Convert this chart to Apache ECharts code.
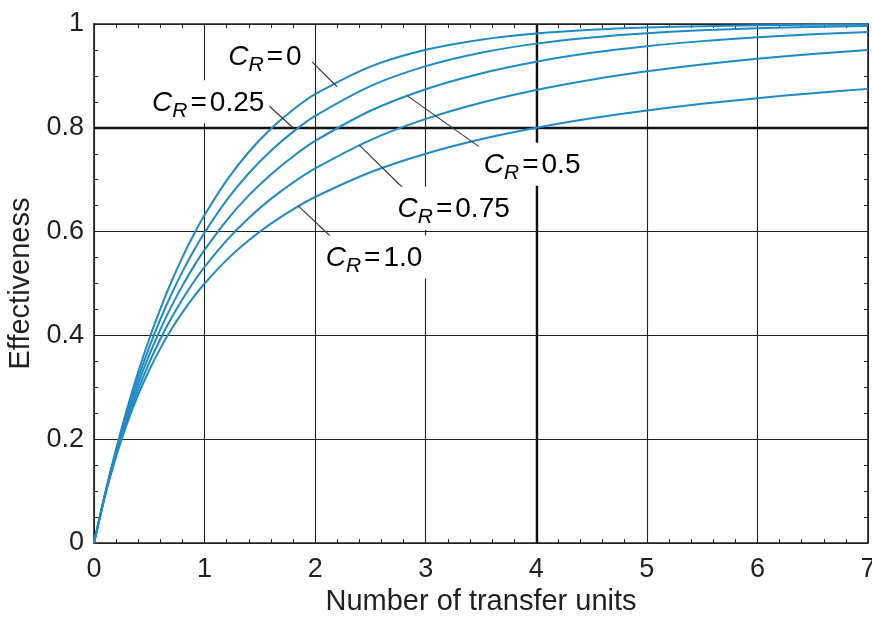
<!DOCTYPE html>
<html>
<head>
<meta charset="utf-8">
<title>Counterflow heat exchanger effectiveness</title>
<script src="https://cdn.jsdelivr.net/npm/echarts@6/dist/echarts.min.js"></script>
<style>
  html, body { margin: 0; padding: 0; background: #fff; }
  #chart { width: 872px; height: 621px; }
</style>
</head>
<body>
<div id="chart"></div>
<script>
// Number of transfer units (NTU) sample points
const ntu = [0, 0.1, 0.2, 0.3, 0.4, 0.5, 0.6, 0.7, 0.8, 0.9, 1.0, 1.2, 1.4, 1.6, 1.8, 2.0,
             2.5, 3.0, 3.5, 4.0, 4.5, 5.0, 5.5, 6.0, 6.5, 7.0];

// Effectiveness for each capacity ratio C_R
const effCR0 = [0, 0.0952, 0.1813, 0.2592, 0.3297, 0.3935, 0.4512, 0.5034, 0.5507, 0.5934, 0.6321,
                0.6988, 0.7534, 0.7981, 0.8347, 0.8647, 0.9179, 0.9502, 0.9698, 0.9817, 0.9889,
                0.9933, 0.9959, 0.9975, 0.9985, 0.9991];
const effCR025 = [0, 0.0941, 0.1775, 0.2517, 0.3181, 0.3776, 0.4311, 0.4793, 0.5229, 0.5624, 0.5983,
                  0.6606, 0.7124, 0.7557, 0.7921, 0.8228, 0.8804, 0.9188, 0.9447, 0.9622, 0.9741,
                  0.9823, 0.9878, 0.9916, 0.9943, 0.9961];
const effCR05 = [0, 0.0930, 0.1738, 0.2445, 0.3069, 0.3623, 0.4117, 0.4560, 0.4959, 0.5320, 0.5647,
                 0.6218, 0.6697, 0.7102, 0.7448, 0.7746, 0.8328, 0.8744, 0.9048, 0.9274, 0.9444,
                 0.9572, 0.9670, 0.9745, 0.9802, 0.9847];
const effCR075 = [0, 0.0919, 0.1702, 0.2375, 0.2961, 0.3475, 0.3930, 0.4334, 0.4697, 0.5023, 0.5319,
                  0.5832, 0.6263, 0.6630, 0.6945, 0.7218, 0.7764, 0.8171, 0.8484, 0.8730, 0.8927,
                  0.9088, 0.9220, 0.9330, 0.9422, 0.9500];
const effCR1 = [0, 0.0909, 0.1667, 0.2308, 0.2857, 0.3333, 0.3750, 0.4118, 0.4444, 0.4737, 0.5000,
                0.5455, 0.5833, 0.6154, 0.6429, 0.6667, 0.7143, 0.7500, 0.7778, 0.8000, 0.8182,
                0.8333, 0.8462, 0.8571, 0.8667, 0.8750];

const ratioLabels = ['0', '0.25', '0.5', '0.75', '1.0'];
const effSeries = [effCR0, effCR025, effCR05, effCR075, effCR1];

// Reference lines drawn heavier than the grid
const refNtu = 4;
const refEff = 0.8;

const FONT = '"Liberation Sans", Arial, Helvetica, sans-serif';
const INK = '#231f20';
const CURVE = '#1f8bc6';

// Curve labels: anchor (left, middle) and leader line ends, in data units
const curveNotes = [
  { label: ratioLabels[0], at: [1.17, 0.938], from: [1.972, 0.927], to: [2.198, 0.879] },
  { label: ratioLabels[1], at: [0.48, 0.850], from: [1.574, 0.844], to: [1.800, 0.800] },
  { label: ratioLabels[2], at: [3.48, 0.730], from: [2.831, 0.862], to: [3.527, 0.757] },
  { label: ratioLabels[3], at: [2.70, 0.645], from: [2.397, 0.767], to: [2.795, 0.684] },
  { label: ratioLabels[4], at: [2.05, 0.551], from: [1.845, 0.650], to: [2.143, 0.590] }
];

const chart = echarts.init(document.getElementById('chart'), null, { renderer: 'canvas' });

const frameLine = { show: true, onZero: false, lineStyle: { color: '#222', width: 1.6 } };
const gridLine = { show: true, lineStyle: { color: '#222', width: 1.1 } };
const tickIn = { show: true, inside: true, length: 4, lineStyle: { color: '#222', width: 1 } };

function minor(n) {
  return { show: true, splitNumber: n, length: 4, lineStyle: { color: '#222', width: 1 } };
}

const series = effSeries.map((vals, k) => ({
  name: 'C_R = ' + ratioLabels[k],
  type: 'line',
  data: ntu.map((x, i) => [x, vals[i]]),
  smooth: 0.3,
  showSymbol: false,
  symbol: 'none',
  lineStyle: { color: CURVE, width: 2 },
  z: 3,
  silent: true
}));

series[0].markLine = {
  silent: true,
  symbol: 'none',
  label: { show: false },
  lineStyle: { color: '#111', width: 2.4, type: 'solid' },
  z: 2,
  data: [{ xAxis: refNtu }, { yAxis: refEff }]
};

chart.setOption({
  animation: false,
  backgroundColor: '#fff',
  grid: { left: 94, right: 4, top: 24, bottom: 78, containLabel: false, outerBoundsMode: 'none' },
  xAxis: [
    {
      type: 'value', min: 0, max: 7, interval: 1, position: 'bottom',
      axisLine: frameLine,
      axisTick: tickIn,
      minorTick: minor(5),
      splitLine: gridLine,
      axisLabel: { color: INK, fontFamily: FONT, fontSize: 27, margin: 13 },
      name: 'Number of transfer units',
      nameLocation: 'middle',
      nameGap: 34,
      nameTextStyle: { color: INK, fontFamily: FONT, fontSize: 29 }
    },
    {
      type: 'value', min: 0, max: 7, interval: 1, position: 'top',
      axisLine: frameLine,
      axisTick: tickIn,
      minorTick: minor(5),
      splitLine: { show: false },
      axisLabel: { show: false }
    }
  ],
  yAxis: [
    {
      type: 'value', min: 0, max: 1, interval: 0.2, position: 'left',
      axisLine: frameLine,
      axisTick: tickIn,
      minorTick: minor(4),
      splitLine: gridLine,
      axisLabel: { color: INK, fontFamily: FONT, fontSize: 27, margin: 10 },
      name: 'Effectiveness',
      nameLocation: 'middle',
      nameGap: 58,
      nameRotate: 90,
      nameTextStyle: { color: INK, fontFamily: FONT, fontSize: 29 }
    },
    {
      type: 'value', min: 0, max: 1, interval: 0.2, position: 'right',
      axisLine: frameLine,
      axisTick: tickIn,
      minorTick: minor(4),
      splitLine: { show: false },
      axisLabel: { show: false }
    }
  ],
  series: series
});

// Curve labels with leader lines
const richStyles = {
  c: { fontFamily: FONT, fontSize: 28, fontStyle: 'italic', color: INK },
  r: { fontFamily: FONT, fontSize: 21, fontStyle: 'italic', color: INK, padding: [16, 0, 0, 0] },
  e: { fontFamily: FONT, fontSize: 28, color: INK, padding: [0, 3, 0, 3] },
  v: { fontFamily: FONT, fontSize: 28, color: INK }
};

const px = p => chart.convertToPixel({ xAxisIndex: 0, yAxisIndex: 0 }, p);
const graphics = [];
curveNotes.forEach(n => {
  const a = px(n.at), p1 = px(n.from), p2 = px(n.to);
  graphics.push({
    type: 'line', z: 50, silent: true,
    shape: { x1: p1[0], y1: p1[1], x2: p2[0], y2: p2[1] },
    style: { stroke: '#3a3a3a', lineWidth: 1.2 }
  });
  graphics.push({
    type: 'text', z: 60, silent: true,
    x: a[0], y: a[1],
    style: {
      text: '{c|C}{r|R}{e|=}{v|' + n.label + '}',
      rich: richStyles,
      align: 'left',
      verticalAlign: 'middle',
      backgroundColor: '#fff',
      padding: [4, 5, 2, 5]
    }
  });
});
chart.setOption({ graphic: graphics });
</script>
</body>
</html>
